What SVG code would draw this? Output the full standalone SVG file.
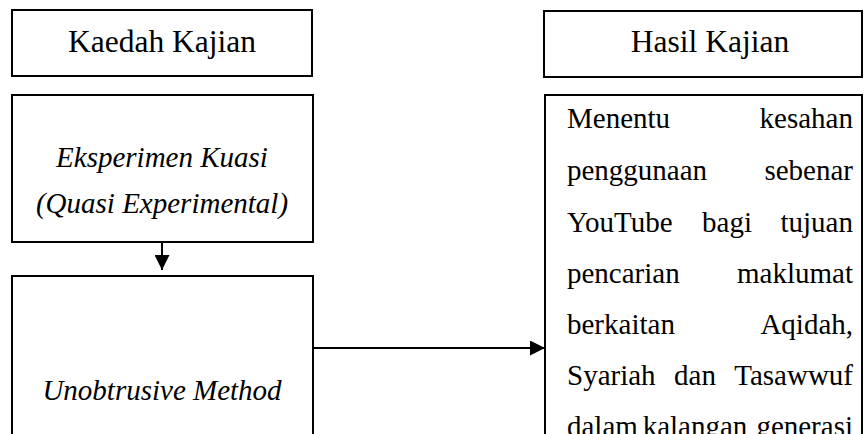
<svg xmlns="http://www.w3.org/2000/svg" width="864" height="434" viewBox="0 0 864 434">
<style>
.box{fill:#fff;stroke:#000;stroke-width:2}
.t{font-family:"Liberation Serif","Times New Roman",serif;fill:#000}
.title{font-size:31.5px;text-anchor:middle}
.it{font-size:29px;font-style:italic;text-anchor:middle}
.b{font-size:29px}
.e{text-anchor:end}
.m{text-anchor:middle}
.conn{stroke:#000;stroke-width:2;fill:none}
</style>
<defs>
<marker id="ah" viewBox="0 0 10 10" refX="10" refY="5" markerWidth="7.5" markerHeight="7.5" markerUnits="strokeWidth" orient="auto">
<path d="M0,0 L10,5 L0,10 Z" fill="#000"/>
</marker>
</defs>
<g id="kaedah-kajian">
<rect class="box" x="12" y="10" width="300" height="66"/>
<text class="t title" x="162" y="52">Kaedah Kajian</text>
</g>
<g id="eksperimen-kuasi">
<rect class="box" x="12" y="95" width="301" height="147"/>
<text class="t it" x="162" y="167">Eksperimen Kuasi</text>
<text class="t it" x="162" y="213">(Quasi Experimental)</text>
</g>
<g id="unobtrusive-method">
<rect class="box" x="12" y="276" width="301" height="180"/>
<text class="t it" x="162" y="400">Unobtrusive Method</text>
</g>
<g id="hasil-kajian">
<rect class="box" x="544" y="11" width="318" height="66"/>
<text class="t title" x="710" y="52">Hasil Kajian</text>
</g>
<g id="hasil-detail">
<rect class="box" x="545" y="95" width="317" height="360"/>
<text class="t b" x="567" y="128">Menentu</text>
<text class="t b e" x="853" y="128">kesahan</text>
<text class="t b" x="567" y="180">penggunaan</text>
<text class="t b e" x="853" y="180">sebenar</text>
<text class="t b" x="567" y="232">YouTube</text>
<text class="t b m" x="727" y="232">bagi</text>
<text class="t b e" x="853" y="232">tujuan</text>
<text class="t b" x="567" y="283">pencarian</text>
<text class="t b e" x="853" y="283">maklumat</text>
<text class="t b" x="567" y="334">berkaitan</text>
<text class="t b e" x="853" y="334">Aqidah,</text>
<text class="t b" x="567" y="385">Syariah</text>
<text class="t b m" x="695" y="385">dan</text>
<text class="t b e" x="853" y="385">Tasawwuf</text>
<text class="t b" x="567" y="436">dalam</text>
<text class="t b m" x="695" y="436">kalangan</text>
<text class="t b e" x="853" y="436">generasi</text>
</g>
<g id="connectors">
<line class="conn" x1="162" y1="242" x2="162" y2="270" marker-end="url(#ah)"/>
<line class="conn" x1="313" y1="348" x2="545" y2="348" marker-end="url(#ah)"/>
</g>
</svg>
